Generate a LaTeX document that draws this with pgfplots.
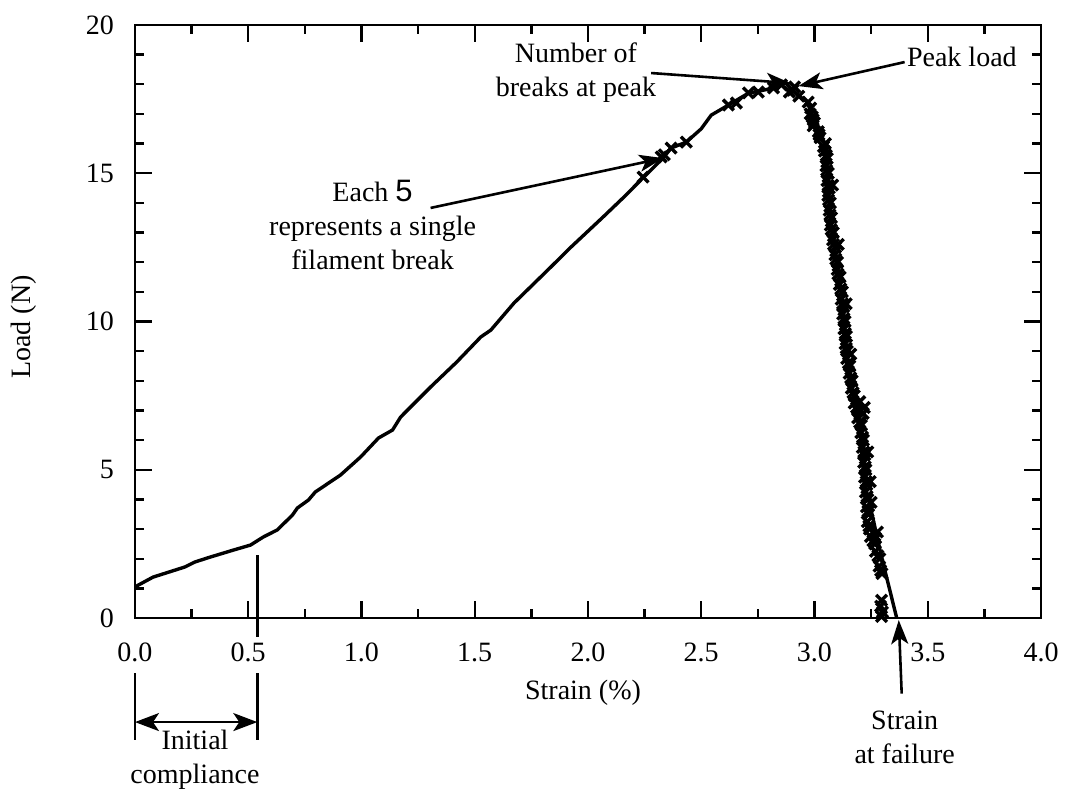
\documentclass[border=0pt]{standalone}
\usepackage{fontspec}
\setmainfont{Liberation Serif}
\setsansfont{Liberation Sans}
\usepackage{pgfplots}
\pgfplotsset{compat=1.18}
\usetikzlibrary{arrows.meta}

\newcommand{\lbl}{\fontsize{14}{17}\selectfont}

\begin{document}
\begin{tikzpicture}[x=1pt,y=1pt]
\path[use as bounding box] (-67.5,-90) rectangle (465.5,309);
\begin{axis}[
  at={(0,0)}, anchor=south west,
  width=453pt, height=296.5pt, scale only axis,
  xmin=0, xmax=4, ymin=0, ymax=20,
  xtick={0,0.5,...,4}, minor x tick num=1,
  ytick={0,5,...,20}, minor y tick num=4,
  tick pos=both, tick align=inside,
  major tick length=8.5pt, minor tick length=4.5pt,
  every tick/.style={black, line width=1.2pt},
  axis line style={line width=1.4pt},
  xticklabel style={/pgf/number format/.cd, fixed, fixed zerofill, precision=1},
  /pgf/number format/assume math mode=true,
  tick label style={font=\lbl},
  xticklabel shift=9pt, yticklabel shift=7pt,
  xlabel={Strain (\%)}, ylabel={Load (N)},
  label style={font=\lbl},
  xlabel style={at={(rel axis cs:0.4945,-0.1265)}, anchor=center},
  ylabel style={at={(rel axis cs:-0.1225,0.491)}, anchor=center},
  clip=false,
]
% load-strain curve
\addplot[black, line width=1.7pt, mark=none] coordinates {
  (0,1.05) (0.08,1.38) (0.22,1.72) (0.265,1.89) (0.33,2.05) (0.434,2.29)
  (0.51,2.46) (0.566,2.73) (0.628,2.97) (0.695,3.47) (0.717,3.71) (0.766,3.98)
  (0.796,4.25) (0.907,4.82) (0.996,5.43) (1.075,6.07) (1.137,6.34) (1.173,6.78)
  (1.305,7.79) (1.42,8.63) (1.527,9.48) (1.571,9.71) (1.673,10.62) (1.823,11.74)
  (1.925,12.51) (2.066,13.52) (2.159,14.2) (2.246,14.87) (2.33,15.5) (2.367,15.85)
  (2.434,16.05) (2.5,16.5) (2.544,16.96) (2.62,17.3) (2.708,17.7) (2.818,17.87)
  (2.876,18.04) (2.898,17.81) (2.973,17.37) (3.0,16.56) (3.044,16.02) (3.053,15.45)
  (3.062,14.33) (3.075,13.19) (3.097,12.07) (3.12,10.96) (3.133,9.81) (3.142,8.94)
  (3.15,8.6) (3.173,7.45) (3.208,6.34) (3.221,5.23) (3.23,4.08) (3.243,3.88)
  (3.296,2.06) (3.363,0)
};
% filament breaks
\addplot[only marks, mark=x, mark size=3.8pt, mark options={line width=1.7pt, black}] coordinates {
  (2.243,14.87) (2.323,15.55) (2.337,15.62) (2.367,15.85) (2.434,16.05) (2.62,17.30) (2.655,17.37)
  (2.708,17.71) (2.752,17.74) (2.819,17.88) (2.854,17.98) (2.889,17.74) (2.912,17.91)
  (2.904,17.8) (2.931,17.6) (2.972,17.4) (2.983,17.2) (2.981,17.0) (2.994,16.8)
  (2.994,16.6) (3.017,16.4) (3.025,16.2) (3.048,16.0) (3.044,15.75) (3.056,15.5)
  (3.051,15.25) (3.061,15.0) (3.055,14.75) (3.065,14.5) (3.059,14.25) (3.070,14.0)
  (3.065,13.75) (3.075,13.5) (3.070,13.25) (3.083,13.0) (3.080,12.75) (3.093,12.5)
  (3.090,12.25) (3.102,12.0) (3.100,11.75) (3.113,11.5) (3.110,11.25) (3.123,11.0)
  (3.118,10.75) (3.129,10.5) (3.124,10.25) (3.135,10.0) (3.130,9.75) (3.141,9.5)
  (3.135,9.25) (3.145,9.0) (3.142,8.75) (3.156,8.5) (3.153,8.25) (3.166,8.0)
  (3.163,7.75) (3.176,7.5) (3.175,7.25) (3.191,7.0) (3.191,6.75) (3.207,6.5)
  (3.205,6.25) (3.216,6.0) (3.211,5.75) (3.222,5.5) (3.217,5.25) (3.227,5.0)
  (3.221,4.75) (3.231,4.5) (3.225,4.25) (3.235,4.0) (3.229,3.75) (3.239,3.5)
  (3.233,3.25) (3.243,3.0) (3.247,2.75) (3.266,2.5) (3.269,2.25) (3.288,2.0)
  (3.285,1.75) (3.298,1.5) (3.296,0.6) (3.292,0.4) (3.300,0.2) (3.296,0.05)
  (3.215,6.9) (3.160,8.9) (3.140,10.6) (3.105,12.6) (3.080,14.6) (3.235,5.6)
  (3.246,4.6) (3.250,3.9) (3.278,2.9) (3.220,7.1) (3.200,7.3) (3.270,2.7)
  (2.990,16.9) (3.000,16.7) (3.020,16.3) (3.040,15.9) (3.052,15.6) (3.054,15.1)
  (3.060,14.6) (3.062,14.1) (3.068,13.6) (3.074,13.1) (3.084,12.6) (3.094,12.1)
  (3.104,11.6) (3.116,11.1) (3.124,10.6) (3.130,10.1) (3.136,9.6) (3.140,9.1)
  (3.150,8.6) (3.160,8.1) (3.170,7.6) (3.186,7.1) (3.200,6.6) (3.212,6.1)
  (3.218,5.6) (3.224,5.1) (3.228,4.6) (3.232,4.1) (3.236,3.6) (3.240,3.1)
  (3.258,2.6) (3.280,2.1) (3.292,1.6)
};
% annotations
\tikzset{ann/.style={line width=1.3pt, -{Stealth[length=12pt,width=8.5pt,inset=3pt]}}}
\draw[ann] (2.279,18.38) -- (2.894,18.04);
\draw[ann] (3.398,18.75) -- (2.929,17.94);
\draw[ann] (1.305,13.83) -- (2.332,15.51);
\draw[ann] (3.385,-2.55) -- (3.372,-0.07);
\node[font=\lbl, align=center] at (1.947,18.41) {Number of\\breaks at peak};
\node[font=\lbl, anchor=west, inner sep=1pt] at (3.398,18.92) {Peak load};
\node[font=\lbl, align=center] at (1.049,13.25) {Each {\sffamily\fontsize{15.5}{17}\selectfont 5}\\represents a single\\filament break};
\node[font=\lbl, align=center] at (3.398,-4.01) {Strain\\at failure};
% initial compliance
\draw[line width=1.3pt] (0.54,2.12) -- (0.54,-0.64);
\draw[line width=1.3pt] (0,-1.855) -- (0,-4.11);
\draw[line width=1.3pt] (0.54,-1.855) -- (0.54,-4.11);
\draw[line width=1.3pt, {Stealth[length=12pt,width=9pt,inset=3pt]}-{Stealth[length=12pt,width=9pt,inset=3pt]}] (0,-3.51) -- (0.54,-3.51);
\node[font=\lbl, align=center] at (0.265,-4.79) {Initial\\compliance};
\end{axis}
\end{tikzpicture}
\end{document}
